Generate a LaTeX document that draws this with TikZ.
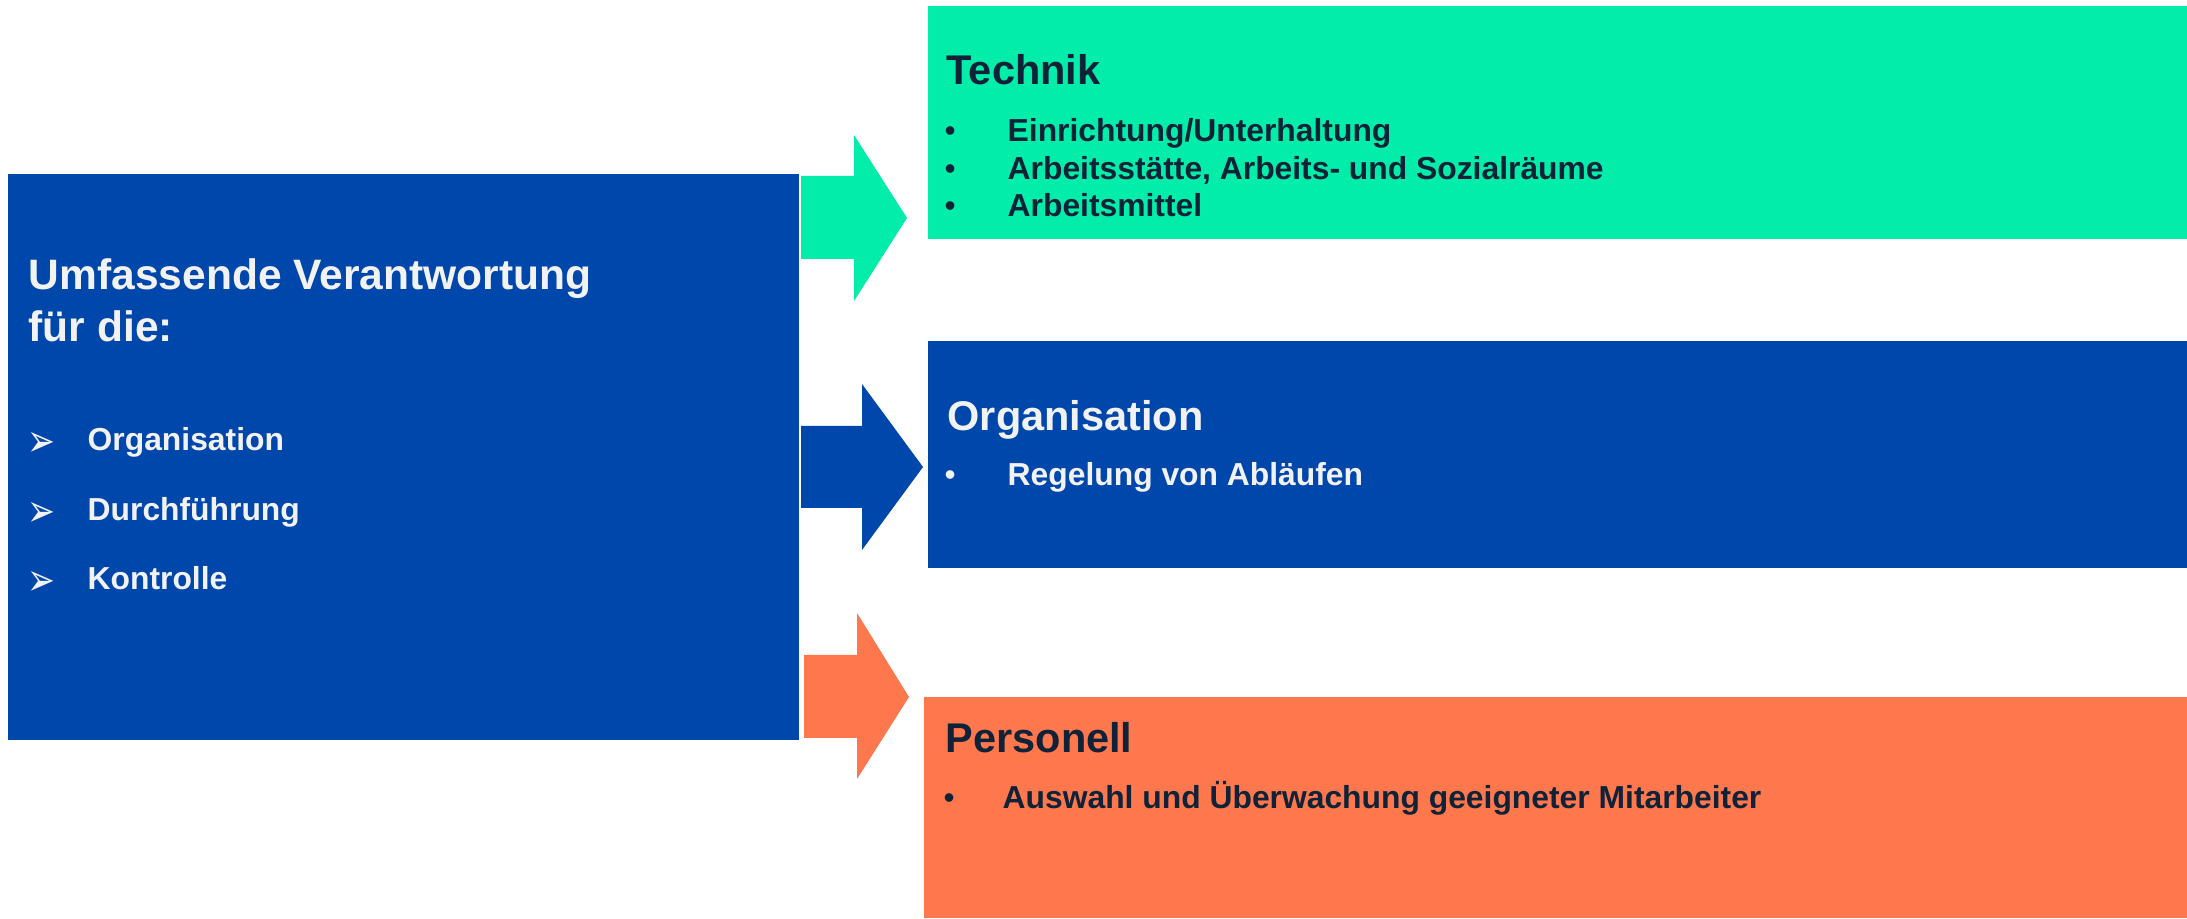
\documentclass[tikz,border=0pt]{standalone}
\usepackage{fontspec}
\setmainfont{Liberation Sans}
\newfontfamily\dingfont{DejaVu Sans}
\usetikzlibrary{positioning}

\definecolor{techgreen}{HTML}{02EDA9}
\definecolor{orgblue}{HTML}{0047AB}
\definecolor{persorange}{HTML}{FF774D}
\definecolor{inkdark}{HTML}{0F2237}
\definecolor{inklight}{HTML}{F2F2F2}

\tikzset{
    panel/.style={rectangle, draw=none, inner sep=0pt, anchor=north west},
    heading/.style={anchor=base west, inner sep=0pt, font=\bfseries\fontsize{11.8}{14}\selectfont},
    item/.style={anchor=base west, inner sep=0pt, font=\bfseries\fontsize{9.05}{11}\selectfont},
    dot/.style={anchor=base west, inner sep=0pt, font=\fontsize{9}{11}\selectfont},
    tick/.style={anchor=base west, inner sep=0pt, yscale=1.35, font=\dingfont\fontsize{9.5}{11}\selectfont}
}

\begin{document}
\begin{tikzpicture}[x=0.01cm, y=-0.01cm]

    \useasboundingbox (0,0) rectangle (2187,919);

    % Panels
    \node[panel, fill=orgblue,    minimum width=7.91cm,  minimum height=5.66cm] (verantwortung) at (7,173)   {};
    \node[panel, fill=techgreen,  minimum width=12.60cm, minimum height=2.33cm] (technik)       at (927,5)   {};
    \node[panel, fill=orgblue,    minimum width=12.60cm, minimum height=2.27cm] (organisation)  at (927,340) {};
    \node[panel, fill=persorange, minimum width=12.64cm, minimum height=2.21cm] (personell)     at (923,696) {};

    % Block arrows
    \fill[techgreen]  (801,176) -- (854,176) -- (854,135) -- (907,218) -- (854,301) -- (854,259) -- (801,259) -- cycle;
    \fill[orgblue]    (801,426) -- (862,426) -- (862,384) -- (923,467) -- (862,550) -- (862,508) -- (801,508) -- cycle;
    \fill[persorange] (804,655) -- (857,655) -- (857,613) -- (909,697) -- (857,779) -- (857,738) -- (804,738) -- cycle;

    % Left panel text
    \node[heading, text=inklight, font=\bfseries\fontsize{12.1}{14}\selectfont] (vtitleA) at (28,290) {Umfassende Verantwortung};
    \node[heading, text=inklight, font=\bfseries\fontsize{12.1}{14}\selectfont] (vtitleB) at (28,342) {für die:};
    \foreach \txt/\yy/\nm in {Organisation/451/va, Durchführung/521/vb, Kontrolle/590/vc}{
        \node[tick, text=inklight] (\nm tick) at (27,\yy+6) {➢};
        \node[item, text=inklight] (\nm) at (87,\yy) {\txt};
    }

    % Technik
    \node[heading, text=inkdark] (ttitle) at (946,85) {Technik};
    \foreach \txt/\yy/\nm in {{Einrichtung/Unterhaltung}/142/ta, {Arbeitsstätte, Arbeits- und Sozialräume}/180/tb, Arbeitsmittel/217/tc}{
        \node[dot,  text=inkdark] (\nm dot) at (944,\yy) {•};
        \node[item, text=inkdark] (\nm) at (1007,\yy) {\txt};
    }

    % Organisation
    \node[heading, text=inklight] (otitle) at (947,431) {Organisation};
    \node[dot,  text=inklight] (oadot) at (944,486) {•};
    \node[item, text=inklight] (oa) at (1007,486) {Regelung von Abläufen};

    % Personell
    \node[heading, text=inkdark] (ptitle) at (945,753) {Personell};
    \node[dot,  text=inkdark] (padot) at (943,809) {•};
    \node[item, text=inkdark] (pa) at (1002,809) {Auswahl und Überwachung geeigneter Mitarbeiter};

\end{tikzpicture}
\end{document}
